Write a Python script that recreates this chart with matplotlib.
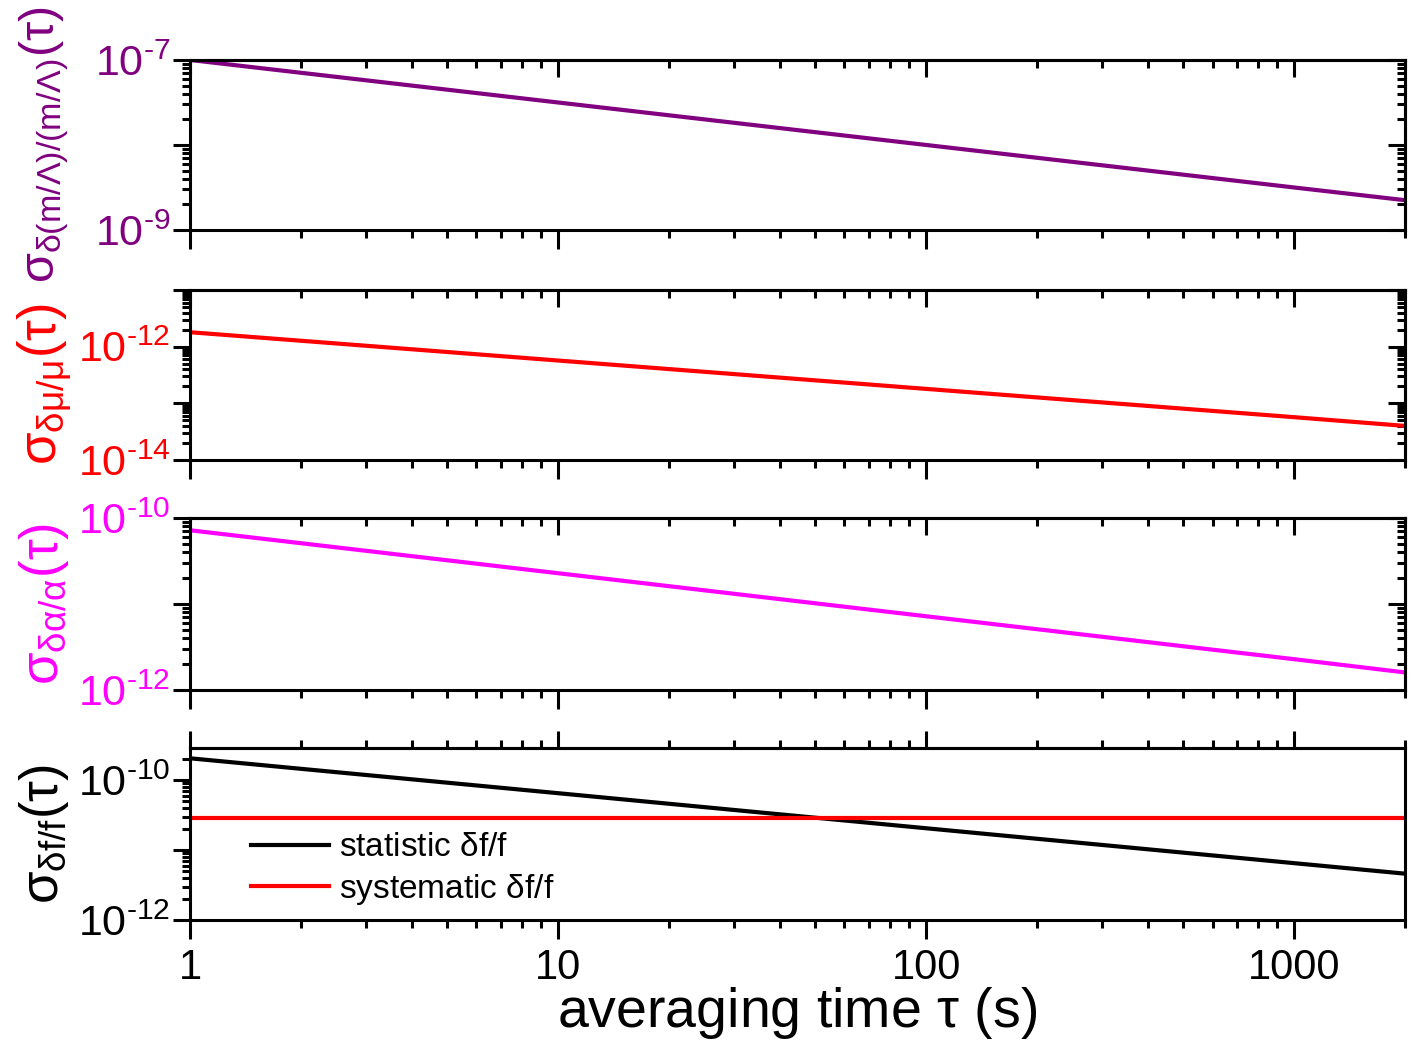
import math

import matplotlib
matplotlib.use("Agg")
from matplotlib import pyplot as plt
from matplotlib.ticker import LogLocator, FuncFormatter, NullFormatter

plt.rcParams["font.family"] = ["Liberation Sans", "DejaVu Sans"]
plt.rcParams["mathtext.fontset"] = "custom"
plt.rcParams["mathtext.rm"] = "Liberation Sans"
plt.rcParams["mathtext.it"] = "Liberation Sans"
plt.rcParams["mathtext.bf"] = "Liberation Sans:bold"
plt.rcParams["axes.unicode_minus"] = False

# averaging time (s) and Allan deviations
tau = [1, 10, 100, 1000, 2000]
sigma_m_lambda = [1.0e-7, 3.16e-8, 1.0e-8, 3.16e-9, 2.24e-9]
sigma_mu = [1.8e-12, 5.7e-13, 1.8e-13, 5.7e-14, 4.0e-14]
sigma_alpha = [7.2e-11, 2.28e-11, 7.2e-12, 2.28e-12, 1.6e-12]
sigma_f_stat = [2.05e-10, 6.5e-11, 2.05e-11, 6.5e-12, 4.6e-12]
sigma_f_sys = [2.87e-11, 2.87e-11, 2.87e-11, 2.87e-11, 2.87e-11]

x_ticks = [1, 10, 100, 1000]
x_ticklabels = ["1", "10", "100", "1000"]

purple = "#800080"
red = "#FF0000"
magenta = "#FF00FF"

fig = plt.figure(figsize=(14.16, 10.41), dpi=100)

# [left, bottom, width, height] in figure fraction
boxes = [
    [0.1342, 0.7791, 0.8580, 0.1633],
    [0.1342, 0.5581, 0.8580, 0.1633],
    [0.1342, 0.3372, 0.8580, 0.1652],
    [0.1342, 0.1162, 0.8580, 0.1652],
]

panels = [
    dict(y=sigma_m_lambda, color=purple, ylim=(1e-9, 1e-7), labels=[1e-7, 1e-9],
         ylabel=r"$\sigma_{\delta(m/\Lambda)/(m/\Lambda)}(\tau)$", ly=0.5, fs=35),
    dict(y=sigma_mu, color=red, ylim=(1e-14, 1e-11), labels=[1e-12, 1e-14],
         ylabel=r"$\sigma_{\delta\mu/\mu}(\tau)$", ly=0.45, fs=38),
    dict(y=sigma_alpha, color=magenta, ylim=(1e-12, 1e-10), labels=[1e-10, 1e-12],
         ylabel=r"$\sigma_{\delta\alpha/\alpha}(\tau)$", ly=0.5, fs=38),
    dict(y=sigma_f_stat, color="black", ylim=(1e-12, 2.87e-10), labels=[1e-10, 1e-12],
         ylabel=r"$\sigma_{\delta f/f}(\tau)$", ly=0.5, fs=38),
]


def make_fmt(labels):
    def fmt(v, pos):
        for l in labels:
            if abs(v / l - 1) < 1e-6:
                e = -int(round(math.log10(v)))
                # short hyphen instead of the wide minus sign
                return "$10^{\u2010%d}$" % e
        return ""
    return FuncFormatter(fmt)


axes = []
for i, (box, p) in enumerate(zip(boxes, panels)):
    ax = fig.add_axes(box)
    axes.append(ax)
    last = i == 3
    if last:
        ax.plot(tau, p["y"], color="black", lw=3, label=r"statistic $\delta$f/f")
        ax.plot(tau, sigma_f_sys, color=red, lw=3, label=r"systematic $\delta$f/f")
    else:
        ax.plot(tau, p["y"], color=p["color"], lw=3)
    ax.set_xscale("log")
    ax.set_yscale("log")
    ax.set_xlim(1, 2000)
    ax.set_ylim(*p["ylim"])
    for s in ax.spines.values():
        s.set_linewidth(2.2)

    ax.yaxis.set_major_locator(LogLocator(base=10, numticks=20))
    ax.yaxis.set_minor_locator(LogLocator(base=10, subs=range(2, 10), numticks=20))
    ax.yaxis.set_major_formatter(make_fmt(p["labels"]))
    ax.yaxis.set_minor_formatter(NullFormatter())
    ax.set_xticks(x_ticks)
    ax.xaxis.set_minor_locator(LogLocator(base=10, subs=range(2, 10), numticks=20))
    ax.xaxis.set_minor_formatter(NullFormatter())
    if last:
        ax.set_xticklabels(x_ticklabels)
    else:
        ax.set_xticklabels([])

    ax.tick_params(axis="both", which="major", direction="out", length=12, width=2.2,
                   labelsize=31, top=False, right=False)
    ax.tick_params(axis="both", which="minor", direction="out", length=6, width=2.2,
                   top=False, right=False)
    ax.tick_params(axis="x", which="major", length=14, pad=6, labelsize=30)
    ax.tick_params(axis="y", which="major", pad=2, labelcolor=p["color"])

    # top and right axes
    top = ax.secondary_xaxis("top")
    top.set_xticks(x_ticks)
    top.xaxis.set_minor_locator(LogLocator(base=10, subs=range(2, 10), numticks=20))
    top.xaxis.set_major_formatter(NullFormatter())
    top.xaxis.set_minor_formatter(NullFormatter())
    tdir = "out" if last else "in"
    top.tick_params(which="major", direction=tdir, length=12, width=2.2)
    top.tick_params(which="minor", direction=tdir, length=6, width=2.2)
    top.spines["top"].set_linewidth(2.2)
    if not last:
        right = ax.secondary_yaxis("right")
        right.yaxis.set_major_locator(LogLocator(base=10, numticks=20))
        right.yaxis.set_minor_locator(LogLocator(base=10, subs=range(2, 10), numticks=20))
        right.yaxis.set_major_formatter(NullFormatter())
        right.yaxis.set_minor_formatter(NullFormatter())
        right.tick_params(which="major", direction="in", length=12, width=2.2)
        right.tick_params(which="minor", direction="in", length=6, width=2.2)
        right.spines["right"].set_linewidth(2.2)

    ax.text(-0.12, p["ly"], p["ylabel"], transform=ax.transAxes, rotation=90,
            ha="center", va="center", fontsize=p["fs"], color=p["color"])

axes[3].legend(loc="lower left", bbox_to_anchor=(0.039, 0.0), borderaxespad=0,
               frameon=False, fontsize=24, handlelength=2.35, handletextpad=0.3,
               labelspacing=0.25)
axes[3].set_xlabel(r"averaging time $\tau$ (s)", fontsize=40, labelpad=-2)

fig.savefig("out.png", dpi=100)
